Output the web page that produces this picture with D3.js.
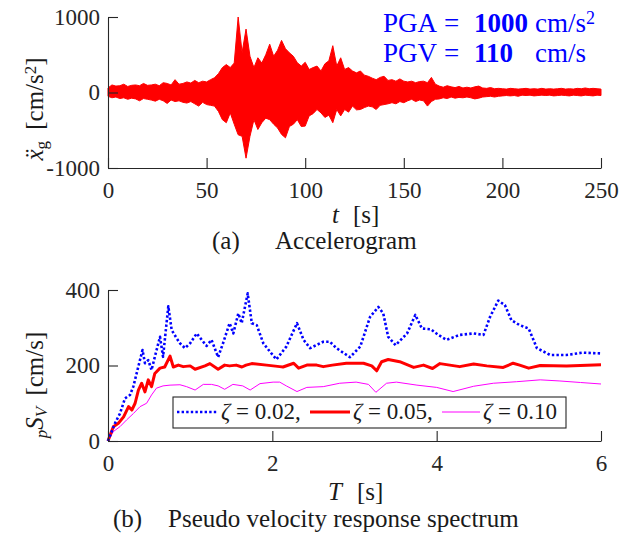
<!DOCTYPE html>
<html>
<head>
<meta charset="utf-8">
<script src="https://cdn.jsdelivr.net/npm/d3@7"></script>
</head>
<body style="margin:0">
<script>
// accelerogram, read as peak envelope every 2 s (cm/s^2)
var accTime = d3.range(0, 251, 2);
var accUpper = [
  60, 100, 85, 90, 110, 80, 95, 100, 90, 120, 95, 100, 110, 90, 130, 120, 100, 170, 110, 120, 140, 125, 160, 130, 150, 140,
  170, 195, 250, 330, 370, 330, 390, 1000, 530, 840, 480, 330, 460, 390, 500, 640, 480, 560, 690, 580, 525, 480, 395, 350, 400,
  305, 330, 350, 285, 380, 420, 620, 350, 460, 305, 330, 285, 260, 285, 230, 215, 190, 170, 200, 215, 160, 170, 150, 180, 150,
  140, 150, 130, 145, 150, 130, 200, 110, 85, 70, 90, 75, 65, 80, 60, 70, 60, 75, 85, 60, 55, 65, 50, 55, 50,
  45, 55, 50, 45, 50, 55, 45, 50, 45, 55, 45, 50, 45, 50, 55, 45, 50, 45, 55, 50, 60, 50, 55, 50, 45
];
var accLower = [
  -50, -70, -60, -80, -70, -90, -75, -85, -110, -80, -90, -100, -115, -90, -110, -145, -100, -120, -110, -130, -140, -120, -150, -180, -130, -160,
  -170, -180, -250, -360, -400, -270, -420, -560, -580, -870, -580, -360, -490, -400, -340, -360, -420, -470, -555, -600, -450, -420, -360, -450, -445,
  -310, -280, -225, -270, -330, -300, -400, -225, -310, -225, -260, -180, -230, -225, -200, -180, -190, -225, -170, -160, -150, -135, -150, -120, -135,
  -110, -90, -120, -100, -110, -180, -120, -90, -85, -70, -80, -60, -75, -65, -70, -60, -70, -85, -75, -60, -55, -50, -60, -50, -45,
  -40, -45, -40, -50, -35, -40, -35, -45, -40, -35, -40, -35, -45, -40, -35, -40, -45, -35, -40, -45, -35, -40, -45, -35, -40
];
var pgaValue = 1000, pgvValue = 110;

// pseudo velocity spectra (T in s, pSV in cm/s)
var periods002 = [0, 0.085, 0.146, 0.207, 0.268, 0.308, 0.369, 0.42, 0.45, 0.49, 0.53, 0.57, 0.633, 0.67, 0.734, 0.775, 0.836, 0.876, 0.937, 1.0,
  1.08, 1.14, 1.2, 1.26, 1.34, 1.40, 1.48, 1.525, 1.586, 1.627, 1.70, 1.75, 1.81, 1.89, 1.97, 2.05, 2.17, 2.30, 2.38, 2.46,
  2.62, 2.70, 2.78, 2.945, 3.07, 3.19, 3.29, 3.35, 3.41, 3.50, 3.64, 3.74, 3.82, 3.93, 4.02, 4.12, 4.28, 4.45, 4.57, 4.65,
  4.75, 4.83, 4.91, 5.01, 5.12, 5.22, 5.38, 5.58, 5.78, 6.0];
var psv002 = [0, 47, 73, 113, 122, 144, 197, 241, 206, 214, 188, 223, 276, 223, 357, 294, 272, 259, 246, 259,
  285, 268, 252, 268, 222, 259, 312, 285, 338, 312, 391, 312, 307, 259, 237, 216, 250, 312, 268, 246,
  263, 263, 246, 222, 250, 329, 355, 338, 276, 254, 285, 334, 298, 296, 281, 268, 281, 285, 281, 329,
  372, 360, 320, 307, 298, 246, 228, 228, 234, 232];

var periods005 = [0, 0.065, 0.126, 0.19, 0.25, 0.29, 0.33, 0.37, 0.41, 0.45, 0.49, 0.53, 0.57, 0.633, 0.69, 0.755, 0.795, 0.856, 0.916, 1.0,
  1.06, 1.18, 1.24, 1.34, 1.42, 1.48, 1.56, 1.63, 1.68, 1.75, 1.93, 2.09, 2.13, 2.26, 2.32, 2.42, 2.54, 2.62, 2.73, 2.9,
  3.11, 3.21, 3.27, 3.33, 3.41, 3.55, 3.72, 3.84, 3.95, 4.04, 4.28, 4.45, 4.61, 4.81, 4.93, 5.01, 5.12, 5.26, 5.58, 6.0];
var psv005 = [0, 38, 47, 64, 91, 82, 100, 135, 153, 130, 162, 144, 179, 193, 196, 225, 196, 201, 197, 199,
  190, 199, 205, 190, 201, 199, 201, 196, 201, 205, 201, 197, 196, 206, 193, 201, 201, 197, 201, 206,
  206, 199, 186, 210, 216, 210, 195, 201, 192, 205, 197, 204, 199, 195, 206, 201, 193, 200, 199, 202];

var periods010 = [0, 0.065, 0.146, 0.227, 0.31, 0.39, 0.47, 0.53, 0.59, 0.67, 0.755, 0.876, 0.956, 1.06, 1.16, 1.26, 1.34, 1.42, 1.52, 1.64,
  1.73, 1.85, 2.01, 2.09, 2.17, 2.30, 2.42, 2.62, 2.82, 3.02, 3.17, 3.26, 3.39, 3.51, 3.76, 4.0, 4.2, 4.45, 4.69, 4.97,
  5.26, 5.5, 5.75, 6.0];
var psv010 = [0, 25, 38, 56, 73, 91, 100, 122, 140, 146, 148, 149, 144, 135, 150, 150, 146, 137, 150, 146,
  135, 152, 156, 156, 146, 131, 142, 144, 153, 156, 150, 129, 153, 156, 148, 142, 131, 145, 153, 157,
  162, 159, 155, 151];

var accTicksX = [0, 50, 100, 150, 200, 250];
var accTicksY = [-1000, 0, 1000];
var specTicksX = [0, 2, 4, 6];
var specTicksY = [0, 200, 400];

var serif = "'Times New Roman', 'Liberation Serif', Tinos, FreeSerif";
var ink = "#1a1a1a";
var axisColor = "#262626";

var svg = d3.select("body").append("svg")
    .attr("width", 638)
    .attr("height", 536);

// plain text helper
function label(x, y, size, str, italic) {
    var t = svg.append("text")
        .attr("x", x).attr("y", y)
        .style("font-family", serif)
        .style("font-size", size + "px")
        .attr("fill", ink)
        .text(str);
    if (italic) t.style("font-style", "italic");
    return t;
}

function styleAxis(g) {
    g.attr("font-family", null).attr("font-size", null);
    g.selectAll("path, line").attr("stroke", axisColor).attr("stroke-width", 1.1);
    g.selectAll("text")
        .style("font-family", serif)
        .style("font-size", "23px")
        .attr("fill", axisColor);
}

// ---------- (a) accelerogram ----------
var xa = d3.scaleLinear().domain([0, 250]).range([108, 601]);
var ya = d3.scaleLinear().domain([-1000, 1000]).range([168, 17]);

svg.append("path")
    .datum(accTime.map(function(t, i) { return [t, accUpper[i], accLower[i]]; }))
    .attr("fill", "#ff0000")
    .attr("stroke", "#ff0000")
    .attr("stroke-width", 1)
    .attr("d", d3.area()
        .x(function(d) { return xa(d[0]); })
        .y0(function(d) { return ya(d[2]); })
        .y1(function(d) { return ya(d[1]); }));

svg.append("g")
    .attr("transform", "translate(0,168)")
    .call(d3.axisBottom(xa).tickValues(accTicksX).tickSizeInner(-10).tickSizeOuter(0).tickPadding(14)
        .tickFormat(function(d) { return String(d); }))
    .call(styleAxis);

svg.append("g")
    .attr("transform", "translate(108,0)")
    .call(d3.axisLeft(ya).tickValues(accTicksY).tickSizeInner(-10).tickSizeOuter(0).tickPadding(8)
        .tickFormat(function(d) { return String(d); }))
    .call(styleAxis);

// y label
var yla = label(0, 0, 25, "")
    .attr("transform", "translate(43,109) rotate(-90)")
    .attr("text-anchor", "middle");
yla.append("tspan").style("font-style", "italic").text("\u1E8D");
yla.append("tspan").attr("baseline-shift", "-25%").style("font-size", "17px").text("g");
yla.append("tspan").text("\u2009 [cm/s");
yla.append("tspan").attr("baseline-shift", "40%").style("font-size", "17px").text("2");
yla.append("tspan").text("]");

// x label
label(332, 223, 25, "t", true);
label(353, 223, 25, "[s]");

// PGA / PGV
var info = [
    { name: "PGA", value: pgaValue, unit: "cm/s", sup: "2", y: 32 },
    { name: "PGV", value: pgvValue, unit: "cm/s", sup: "", y: 62 }
];
info.forEach(function(d) {
    label(383, d.y, 27, d.name).attr("fill", "#0000ff");
    label(444, d.y, 27, "=").attr("fill", "#0000ff");
    label(474, d.y, 27, d.value).attr("fill", "#0000ff").style("font-weight", "bold");
    var u = label(535, d.y, 27, d.unit).attr("fill", "#0000ff");
    if (d.sup) u.append("tspan").attr("baseline-shift", "45%").style("font-size", "18px").text(d.sup);
});

// caption (a)
label(212, 249, 25, "(a)");
label(275, 249, 25, "Accelerogram");

// ---------- (b) pseudo velocity spectrum ----------
var xb = d3.scaleLinear().domain([0, 6]).range([108, 601]);
var yb = d3.scaleLinear().domain([0, 400]).range([441, 290]);

var specLine = d3.line()
    .x(function(d) { return xb(d[0]); })
    .y(function(d) { return yb(d[1]); });

var series = [
    { T: periods010, S: psv010, color: "#ff00ff", width: 1, dash: null, label: "\u03B6 = 0.10" },
    { T: periods005, S: psv005, color: "#ff0000", width: 3, dash: null, label: "\u03B6 = 0.05," },
    { T: periods002, S: psv002, color: "#0000ff", width: 2.6, dash: "2.4,2.2", label: "\u03B6 = 0.02," }
];

series.forEach(function(s) {
    svg.append("path")
        .datum(s.T.map(function(t, i) { return [t, s.S[i]]; }))
        .attr("fill", "none")
        .attr("stroke", s.color)
        .attr("stroke-width", s.width)
        .attr("stroke-dasharray", s.dash)
        .attr("stroke-linejoin", "round")
        .attr("d", specLine);
});

svg.append("g")
    .attr("transform", "translate(0,441)")
    .call(d3.axisBottom(xb).tickValues(specTicksX).tickSizeInner(-10).tickSizeOuter(0).tickPadding(14)
        .tickFormat(function(d) { return String(d); }))
    .call(styleAxis);

svg.append("g")
    .attr("transform", "translate(108,0)")
    .call(d3.axisLeft(yb).tickValues(specTicksY).tickSizeInner(-10).tickSizeOuter(0).tickPadding(8)
        .tickFormat(function(d) { return String(d); }))
    .call(styleAxis);

// legend
svg.append("rect")
    .attr("x", 173).attr("y", 397).attr("width", 393).attr("height", 31)
    .attr("fill", "#fff").attr("stroke", axisColor).attr("stroke-width", 1.1);

var legendPos = [
    { s: series[2], x1: 177, x2: 218, tx: 221 },
    { s: series[1], x1: 310, x2: 350, tx: 353 },
    { s: series[0], x1: 442, x2: 480, tx: 483 }
];
legendPos.forEach(function(d) {
    svg.append("line")
        .attr("x1", d.x1).attr("x2", d.x2).attr("y1", 412).attr("y2", 412)
        .attr("stroke", d.s.color).attr("stroke-width", d.s.width)
        .attr("stroke-dasharray", d.s.dash);
    var t = label(d.tx, 419, 23, "");
    t.append("tspan").style("font-style", "italic").text(d.s.label.slice(0, 1));
    t.append("tspan").text(d.s.label.slice(1));
});

// y label
var ylb = label(0, 0, 25, "")
    .attr("transform", "translate(43,385) rotate(-90)")
    .attr("text-anchor", "middle");
ylb.append("tspan").attr("baseline-shift", "-25%").style("font-size", "17px").style("font-style", "italic").text("p");
ylb.append("tspan").style("font-style", "italic").text("S");
ylb.append("tspan").attr("baseline-shift", "-25%").style("font-size", "17px").style("font-style", "italic").text("V");
ylb.append("tspan").text("\u2009 [cm/s]");

// x label
label(328, 500, 25, "T", true);
label(357, 500, 25, "[s]");

// caption (b)
label(113, 527, 25, "(b)");
label(168, 527, 25, "Pseudo velocity response spectrum");
</script>
</body>
</html>
